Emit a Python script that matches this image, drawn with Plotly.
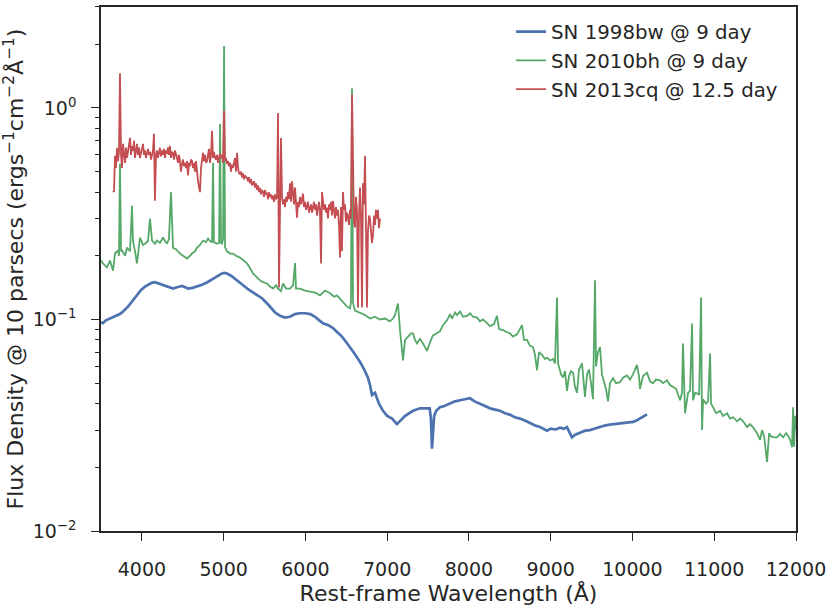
import plotly.graph_objects as go

# spectra: (rest wavelength in Angstrom, flux density)
sn1998bw = [
    (3500, 0.097), (3524, 0.096), (3560, 0.099), (3610, 0.101), (3650, 0.103),
    (3696, 0.104), (3730, 0.106), (3757, 0.108), (3790, 0.111), (3830, 0.115),
    (3860, 0.119), (3891, 0.123), (3920, 0.128), (3953, 0.133), (3990, 0.138),
    (4038, 0.143), (4080, 0.146), (4120, 0.149), (4160, 0.150), (4200, 0.148),
    (4246, 0.146), (4300, 0.143), (4340, 0.141), (4381, 0.140), (4430, 0.142),
    (4491, 0.144), (4530, 0.142), (4564, 0.140), (4620, 0.141), (4680, 0.143),
    (4735, 0.146), (4800, 0.150), (4858, 0.155), (4920, 0.160), (4980, 0.165),
    (5010, 0.166), (5041, 0.165), (5090, 0.161), (5139, 0.156), (5200, 0.149),
    (5250, 0.144), (5298, 0.139), (5380, 0.133), (5469, 0.126), (5550, 0.117),
    (5628, 0.108), (5690, 0.104), (5750, 0.102), (5810, 0.103), (5873, 0.106),
    (5930, 0.107), (5995, 0.107), (6060, 0.106), (6117, 0.103), (6170, 0.099),
    (6215, 0.096), (6280, 0.094), (6337, 0.091), (6390, 0.087), (6447, 0.083),
    (6500, 0.078), (6545, 0.074), (6600, 0.069), (6668, 0.063), (6720, 0.058),
    (6765, 0.053), (6790, 0.049), (6814, 0.044), (6851, 0.045), (6900, 0.040),
    (6949, 0.037), (7000, 0.035), (7060, 0.034), (7120, 0.032), (7157, 0.033),
    (7220, 0.035), (7316, 0.037), (7401, 0.038), (7460, 0.038), (7520, 0.038),
    (7535, 0.034), (7548, 0.0245), (7560, 0.029), (7575, 0.035), (7600, 0.037),
    (7646, 0.0385), (7700, 0.039), (7760, 0.040), (7830, 0.041), (7891, 0.0415),
    (7950, 0.042), (8013, 0.0424), (8070, 0.041), (8135, 0.040), (8200, 0.039),
    (8260, 0.038), (8320, 0.0375), (8380, 0.037), (8440, 0.036), (8500, 0.0355),
    (8560, 0.0345), (8624, 0.034), (8690, 0.0332), (8750, 0.0322), (8810, 0.0315),
    (8869, 0.031), (8920, 0.0303), (8955, 0.0298), (9000, 0.0305), (9060, 0.0302),
    (9114, 0.0308), (9160, 0.0304), (9199, 0.031), (9230, 0.029), (9260, 0.0277),
    (9300, 0.0285), (9358, 0.0292), (9420, 0.0298), (9480, 0.030), (9540, 0.0305),
    (9603, 0.0312), (9660, 0.0315), (9720, 0.0318), (9780, 0.032), (9847, 0.0322),
    (9900, 0.0324), (9950, 0.0325), (10006, 0.0328), (10050, 0.0333), (10092, 0.034),
    (10140, 0.0348), (10178, 0.0356),
]

sn2010bh = [
    (3500, 0.19), (3524, 0.184), (3573, 0.176), (3610, 0.190), (3647, 0.170),
    (3671, 0.205), (3708, 0.212), (3720, 0.20), (3732, 0.544), (3745, 0.21),
    (3757, 0.212), (3794, 0.20), (3818, 0.2185), (3855, 0.21), (3879, 0.345),
    (3891, 0.236), (3916, 0.21), (3940, 0.184), (3977, 0.244), (4014, 0.225),
    (4038, 0.228), (4075, 0.235), (4099, 0.30), (4124, 0.236), (4160, 0.228),
    (4185, 0.236), (4221, 0.23), (4258, 0.244), (4283, 0.235), (4307, 0.228),
    (4331, 0.24), (4356, 0.40), (4381, 0.218), (4417, 0.215), (4466, 0.205),
    (4503, 0.20), (4552, 0.194), (4589, 0.20), (4613, 0.205), (4650, 0.21),
    (4674, 0.2185), (4711, 0.225), (4748, 0.236), (4784, 0.232), (4809, 0.241),
    (4833, 0.235), (4858, 0.231), (4870, 0.55), (4882, 0.232), (4919, 0.228),
    (4944, 0.23), (4956, 0.84), (4968, 0.23), (4980, 0.228), (4993, 0.24),
    (5005, 1.96), (5017, 0.22), (5041, 0.21), (5078, 0.205), (5114, 0.2048),
    (5151, 0.20), (5200, 0.196), (5237, 0.19), (5286, 0.184), (5322, 0.175),
    (5359, 0.165), (5396, 0.16), (5445, 0.153), (5481, 0.15), (5530, 0.148),
    (5567, 0.143), (5604, 0.14), (5640, 0.145), (5665, 0.14), (5701, 0.136),
    (5726, 0.148), (5763, 0.14), (5812, 0.14), (5849, 0.145), (5873, 0.185),
    (5885, 0.14), (5934, 0.14), (5995, 0.137), (6056, 0.135), (6117, 0.134),
    (6178, 0.13), (6240, 0.137), (6301, 0.133), (6350, 0.128), (6386, 0.13),
    (6435, 0.124), (6472, 0.12), (6509, 0.115), (6545, 0.113), (6557, 0.12),
    (6570, 1.24), (6582, 0.12), (6606, 0.11), (6668, 0.107), (6729, 0.105),
    (6790, 0.101), (6851, 0.103), (6912, 0.10), (6973, 0.101), (7034, 0.098),
    (7071, 0.101), (7096, 0.105), (7132, 0.119), (7157, 0.089), (7181, 0.072),
    (7194, 0.064), (7218, 0.08), (7255, 0.083), (7292, 0.086), (7316, 0.0859),
    (7340, 0.08), (7365, 0.077), (7401, 0.081), (7438, 0.077), (7463, 0.074),
    (7487, 0.071), (7524, 0.078), (7560, 0.084), (7609, 0.086), (7646, 0.088),
    (7683, 0.094), (7732, 0.099), (7769, 0.106), (7793, 0.101), (7830, 0.108),
    (7854, 0.105), (7891, 0.109), (7928, 0.103), (7977, 0.104), (8013, 0.107),
    (8050, 0.103), (8099, 0.102), (8135, 0.098), (8172, 0.10), (8221, 0.096),
    (8258, 0.093), (8307, 0.095), (8343, 0.104), (8368, 0.09), (8417, 0.089),
    (8466, 0.087), (8502, 0.086), (8539, 0.083), (8588, 0.085), (8649, 0.094),
    (8673, 0.08), (8710, 0.08), (8747, 0.075), (8784, 0.074), (8808, 0.068),
    (8833, 0.0575), (8857, 0.07), (8894, 0.068), (8930, 0.065), (8955, 0.066),
    (8992, 0.064), (9028, 0.065), (9053, 0.062), (9077, 0.127), (9090, 0.062),
    (9126, 0.055), (9151, 0.0532), (9175, 0.057), (9199, 0.046), (9224, 0.054),
    (9248, 0.057), (9273, 0.056), (9297, 0.048), (9322, 0.045), (9346, 0.058),
    (9383, 0.062), (9407, 0.050), (9419, 0.043), (9444, 0.055), (9468, 0.058),
    (9493, 0.05), (9517, 0.042), (9542, 0.153), (9554, 0.06), (9578, 0.07),
    (9603, 0.074), (9627, 0.055), (9652, 0.05), (9676, 0.047), (9701, 0.041),
    (9725, 0.05), (9762, 0.0527), (9799, 0.05), (9847, 0.0505), (9884, 0.053),
    (9933, 0.0544), (9970, 0.052), (10006, 0.055), (10055, 0.061), (10080, 0.054),
    (10092, 0.047), (10129, 0.054), (10178, 0.056), (10215, 0.051), (10251, 0.0499),
    (10288, 0.052), (10337, 0.0516), (10374, 0.05), (10423, 0.0516), (10459, 0.049),
    (10496, 0.0478), (10533, 0.047), (10582, 0.0415), (10606, 0.045), (10618, 0.077),
    (10631, 0.044), (10643, 0.036), (10680, 0.045), (10704, 0.046), (10729, 0.0957),
    (10741, 0.0415), (10766, 0.045), (10790, 0.0448), (10815, 0.044), (10839, 0.127),
    (10851, 0.03), (10864, 0.042), (10900, 0.04), (10925, 0.041), (10949, 0.069),
    (10961, 0.04), (10986, 0.0385), (11023, 0.036), (11072, 0.037), (11108, 0.035),
    (11157, 0.036), (11194, 0.034), (11231, 0.0345), (11280, 0.033), (11316, 0.034),
    (11353, 0.033), (11402, 0.031), (11438, 0.032), (11475, 0.0309), (11524, 0.029),
    (11561, 0.027), (11585, 0.03), (11610, 0.028), (11646, 0.0212), (11671, 0.029),
    (11695, 0.028), (11732, 0.0277), (11769, 0.0277), (11805, 0.0288), (11842, 0.0277),
    (11879, 0.029), (11903, 0.0282), (11928, 0.027), (11952, 0.0249), (11964, 0.0385),
    (11977, 0.025), (11989, 0.035), (12000, 0.03),
]

sn2013cq = [
    (3647, 0.406), (3659, 0.40), (3671, 0.594), (3683, 0.52), (3696, 0.648),
    (3708, 0.56), (3720, 0.62), (3732, 1.46), (3745, 0.60), (3757, 0.52),
    (3769, 0.676), (3781, 0.60), (3794, 0.55), (3806, 0.65), (3818, 0.581),
    (3830, 0.62), (3843, 0.70), (3855, 0.722), (3867, 0.60), (3879, 0.66),
    (3891, 0.627), (3904, 0.70), (3916, 0.58), (3928, 0.64), (3940, 0.676),
    (3953, 0.60), (3965, 0.65), (3977, 0.581), (3989, 0.62), (4002, 0.66),
    (4014, 0.676), (4026, 0.60), (4038, 0.63), (4050, 0.58), (4063, 0.607),
    (4075, 0.64), (4087, 0.60), (4099, 0.62), (4112, 0.57), (4124, 0.61),
    (4136, 0.63), (4148, 0.754), (4160, 0.364), (4173, 0.60), (4185, 0.63),
    (4197, 0.58), (4209, 0.62), (4221, 0.648), (4234, 0.59), (4246, 0.63),
    (4258, 0.60), (4270, 0.64), (4283, 0.58), (4295, 0.63), (4307, 0.607),
    (4319, 0.65), (4331, 0.60), (4344, 0.662), (4356, 0.58), (4368, 0.62),
    (4381, 0.61), (4393, 0.57), (4405, 0.63), (4417, 0.59), (4429, 0.581),
    (4442, 0.55), (4454, 0.60), (4466, 0.56), (4478, 0.50), (4491, 0.544),
    (4503, 0.57), (4515, 0.53), (4527, 0.55), (4540, 0.52), (4552, 0.56),
    (4564, 0.48), (4576, 0.55), (4589, 0.53), (4601, 0.57), (4613, 0.562),
    (4625, 0.52), (4638, 0.55), (4650, 0.50), (4662, 0.56), (4674, 0.488),
    (4687, 0.45), (4699, 0.42), (4711, 0.40), (4723, 0.52), (4735, 0.58),
    (4748, 0.613), (4760, 0.56), (4772, 0.60), (4784, 0.55), (4797, 0.562),
    (4809, 0.60), (4821, 0.64), (4833, 0.55), (4845, 0.60), (4858, 0.78),
    (4870, 0.58), (4882, 0.62), (4894, 0.581), (4907, 0.57), (4919, 0.60),
    (4931, 0.55), (4944, 0.59), (4956, 0.607), (4968, 0.58), (4980, 0.60),
    (4993, 0.55), (5005, 0.968), (5017, 0.56), (5029, 0.58), (5041, 0.544),
    (5054, 0.56), (5066, 0.53), (5078, 0.55), (5090, 0.50), (5103, 0.54),
    (5114, 0.521), (5127, 0.56), (5139, 0.58), (5151, 0.50), (5164, 0.613),
    (5176, 0.52), (5188, 0.49), (5200, 0.488), (5213, 0.50), (5225, 0.47),
    (5237, 0.49), (5249, 0.46), (5262, 0.48), (5274, 0.47), (5286, 0.468),
    (5298, 0.45), (5310, 0.47), (5322, 0.44), (5335, 0.46), (5347, 0.43),
    (5359, 0.443), (5371, 0.45), (5384, 0.42), (5396, 0.44), (5408, 0.41),
    (5420, 0.43), (5433, 0.40), (5445, 0.419), (5457, 0.39), (5469, 0.41),
    (5481, 0.40), (5494, 0.38), (5506, 0.41), (5518, 0.39), (5530, 0.397),
    (5543, 0.37), (5555, 0.40), (5567, 0.38), (5579, 0.39), (5592, 0.37),
    (5604, 0.385), (5616, 0.36), (5628, 0.39), (5640, 0.37), (5653, 0.38),
    (5665, 0.947), (5677, 0.1416), (5689, 0.36), (5701, 0.72), (5714, 0.38),
    (5726, 0.35), (5738, 0.37), (5750, 0.34), (5763, 0.38), (5775, 0.36),
    (5787, 0.40), (5799, 0.37), (5812, 0.44), (5824, 0.36), (5836, 0.45),
    (5849, 0.38), (5861, 0.35), (5873, 0.42), (5885, 0.36), (5897, 0.303),
    (5910, 0.36), (5922, 0.34), (5934, 0.38), (5946, 0.35), (5959, 0.37),
    (5971, 0.393), (5983, 0.34), (5995, 0.36), (6008, 0.33), (6020, 0.35),
    (6032, 0.36), (6044, 0.32), (6056, 0.338), (6069, 0.35), (6081, 0.32),
    (6093, 0.338), (6105, 0.36), (6117, 0.33), (6130, 0.35), (6142, 0.31),
    (6154, 0.34), (6166, 0.36), (6178, 0.33), (6191, 0.184), (6203, 0.40),
    (6215, 0.36), (6227, 0.33), (6240, 0.35), (6252, 0.32), (6264, 0.338),
    (6276, 0.30), (6289, 0.35), (6301, 0.33), (6313, 0.36), (6325, 0.31),
    (6337, 0.364), (6350, 0.32), (6362, 0.30), (6374, 0.34), (6386, 0.31),
    (6398, 0.33), (6411, 0.28), (6423, 0.196), (6435, 0.34), (6447, 0.21),
    (6460, 0.40), (6472, 0.33), (6484, 0.35), (6496, 0.29), (6509, 0.32),
    (6521, 0.303), (6533, 0.28), (6545, 0.33), (6557, 0.30), (6570, 1.16),
    (6582, 0.45), (6594, 0.29), (6606, 0.272), (6618, 0.38), (6631, 0.33),
    (6643, 0.114), (6655, 0.30), (6668, 0.42), (6680, 0.30), (6692, 0.114),
    (6704, 0.44), (6716, 0.35), (6729, 0.594), (6741, 0.30), (6753, 0.114),
    (6765, 0.26), (6778, 0.31), (6790, 0.30), (6802, 0.27), (6814, 0.23),
    (6827, 0.25), (6839, 0.31), (6851, 0.28), (6863, 0.33), (6876, 0.30),
    (6888, 0.33), (6900, 0.27), (6912, 0.30),
]

names = ["SN 1998bw @ 9 day", "SN 2010bh @ 9 day", "SN 2013cq @ 12.5 day"]
colors = ["#4C72B0", "#55A868", "#C44E52"]
widths = [2.7, 1.8, 1.8]

x_ticks = [4000, 5000, 6000, 7000, 8000, 9000, 10000, 11000, 12000]
y_major = [0.01, 0.1, 1]
y_major_text = ["10<sup>−2</sup>", "10<sup>−1</sup>", "10<sup>0</sup>"]
y_minor = [0.02, 0.03, 0.04, 0.05, 0.06, 0.07, 0.08, 0.09,
           0.2, 0.3, 0.4, 0.5, 0.6, 0.7, 0.8, 0.9, 2, 3]

ink = "#262626"
font = "DejaVu Sans"
y_range = [-2, 0.477]

fig = go.Figure()
for spec, name, color, w in zip([sn1998bw, sn2010bh, sn2013cq], names, colors, widths):
    fig.add_trace(go.Scatter(
        x=[p[0] for p in spec], y=[p[1] for p in spec],
        mode="lines", name=name,
        line=dict(color=color, width=w),
    ))

# invisible copy on a second y axis that only draws the short minor ticks
fig.add_trace(go.Scatter(
    x=[p[0] for p in sn1998bw], y=[p[1] for p in sn1998bw], yaxis="y2",
    mode="lines", line=dict(width=0, color="rgba(0,0,0,0)"),
    showlegend=False, hoverinfo="skip",
))

fig.update_layout(
    width=831, height=611,
    margin=dict(l=101, r=35, t=5, b=80),
    paper_bgcolor="white", plot_bgcolor="white",
    font=dict(family=font, size=18, color=ink),
    showlegend=True,
    legend=dict(x=0.59, y=0.99, xanchor="left", yanchor="top",
                bgcolor="rgba(0,0,0,0)", font=dict(size=19.8)),
    yaxis=dict(
        type="log", range=y_range, tickmode="array",
        tickvals=y_major, ticktext=y_major_text,
        tickfont=dict(size=19), ticklabelstandoff=11,
        ticks="outside", ticklen=8, tickwidth=1.3, tickcolor=ink,
        showline=True, linecolor=ink, linewidth=1.5, mirror=True,
        showgrid=False, zeroline=False,
        title=dict(text="Flux Density @ 10 parsecs (ergs<sup>−1</sup>cm<sup>−2</sup>Å<sup>−1</sup>)",
                   standoff=9),
    ),
    yaxis2=dict(
        overlaying="y", side="left", anchor="x", type="log", range=y_range,
        tickmode="array", tickvals=y_minor, ticktext=[str(v) for v in y_minor],
        showticklabels=False,
        ticks="outside", ticklen=5, tickwidth=1.3, tickcolor=ink,
        showline=False, showgrid=False, zeroline=False,
    ),
)
fig.update_xaxes(
    range=[3500, 12000], tickvals=x_ticks, ticktext=[str(v) for v in x_ticks],
    tickfont=dict(size=19), ticklabelstandoff=12,
    ticks="outside", ticklen=8, tickwidth=1.3, tickcolor=ink,
    showline=True, linecolor=ink, linewidth=1.5, mirror=True,
    showgrid=False, zeroline=False,
    title=dict(text="Rest-frame Wavelength (Å)", standoff=4),
)

# the page's default body margin would shift the plot by 8px
fig.write_html("out.html", config={"displayModeBar": False},
               post_script="document.body.style.margin='0';")
